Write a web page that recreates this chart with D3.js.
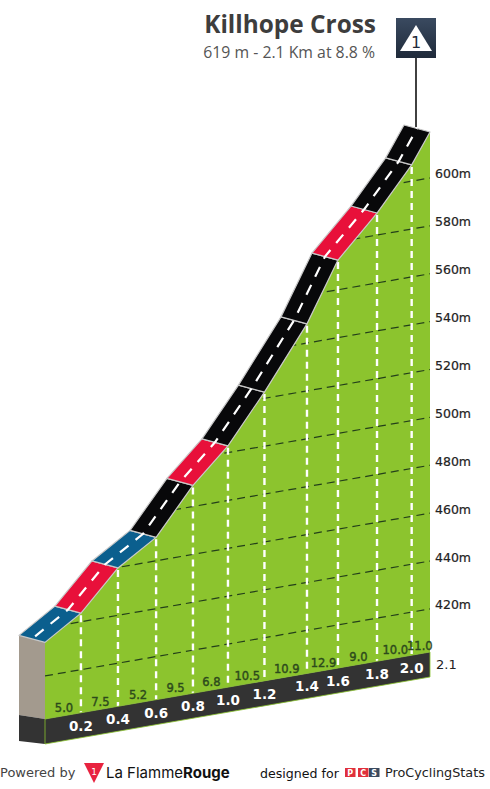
<!DOCTYPE html>
<html><head><meta charset="utf-8">
<script src="https://cdnjs.cloudflare.com/ajax/libs/d3/7.8.5/d3.min.js"></script>
<style>html,body{margin:0;padding:0;background:#fff}svg{display:block}</style>
</head><body><svg id="c" width="490" height="789"></svg>
<script>
const kmPoints=[0,0.196,0.398,0.606,0.807,0.998,1.197,1.429,1.598,1.811,2.0,2.1];
const elevations=[434,443.6,459.8,469.8,488.8,502.8,522.6,548,572.4,589.2,606.8,619.2];
const gradients=[5.0,7.5,5.2,9.5,6.8,10.5,10.9,12.9,9.0,10.0,11.0];
const kmLabels=["0.2","0.4","0.6","0.8","1.0","1.2","1.4","1.6","1.8","2.0"];
const elevTicks=[420,440,460,480,500,520,540,560,580,600];
const segColors=["#0b5f8e","#e8103a","#0b5f8e","#08080a","#e8103a","#08080a","#08080a","#08080a","#e8103a","#08080a","#08080a"];

const svg=d3.select("#c");
const F="'DejaVu Sans',Verdana,sans-serif";
const x=d3.scaleLinear().domain([0,2.1]).range([45,430]);
const base=d3.scaleLinear().domain([0,2.1]).range([719,652]);
const h=d3.scaleLinear().domain([402,619.2]).range([0,520]);
const Y=(km,e)=>base(km)-h(e);
const ox=-26,oy=-7;
const pts=kmPoints.map((k,i)=>({k,e:elevations[i],x:x(k),y:Y(k,elevations[i])}));
const line=d3.line();
const closed=a=>line(a)+"Z";

// left end of the block
svg.append("path").attr("d",closed([[x(0)+ox,pts[0].y+oy],[x(0),pts[0].y],[x(0),base(0)],[x(0)+ox,base(0)-4]])).attr("fill","#a39a8e");
svg.append("path").attr("d",closed([[x(0)+ox,base(0)-4],[x(0),base(0)],[x(0),base(0)+25],[x(0)+ox,base(0)+22]])).attr("fill","#333333");

// terrain
const terrain=pts.map(p=>[p.x,p.y]).concat([[x(2.1),base(2.1)],[x(0),base(0)]]);
svg.append("path").attr("d",closed(terrain)).attr("fill","#8cc42e");
svg.append("clipPath").attr("id","t").append("path").attr("d",closed(terrain));

// elevation grid
svg.append("g").attr("clip-path","url(#t)").selectAll("line").data(elevTicks).join("line")
 .attr("x1",x(0)).attr("x2",x(2.1)).attr("y1",d=>Y(0,d)).attr("y2",d=>Y(2.1,d))
 .attr("stroke","#24401a").attr("stroke-width",1.2).attr("stroke-dasharray","8 5");

// km dividers
svg.append("g").selectAll("line").data(pts.slice(1,-1)).join("line")
 .attr("x1",d=>d.x).attr("x2",d=>d.x).attr("y1",d=>d.y+2).attr("y2",d=>base(d.k))
 .attr("stroke","#fff").attr("stroke-width",2.4).attr("stroke-dasharray","7 5");

// base band
svg.append("path").attr("d",closed([[x(0),base(0)],[x(2.1),base(2.1)],[x(2.1),base(2.1)+25],[x(0),base(0)+25]]))
 .attr("fill","#333333").attr("stroke","#8cc42e").attr("stroke-width",0.8);

// road
svg.append("g").selectAll("path").data(gradients).join("path")
 .attr("d",(g,i)=>{const a=pts[i],b=pts[i+1];return closed([[a.x,a.y],[b.x,b.y],[b.x+ox,b.y+oy],[a.x+ox,a.y+oy]]);})
 .attr("fill",(g,i)=>segColors[i]).attr("stroke","#c8c8c8").attr("stroke-width",1.2).attr("stroke-linejoin","round");
svg.append("path").attr("d",line(pts.map(p=>[p.x+ox/2,p.y+oy/2])))
 .attr("fill","none").attr("stroke","#fff").attr("stroke-width",2.2).attr("stroke-dasharray","11 9").attr("stroke-dashoffset",-4);

// gradient labels
const mid=(i)=>(kmPoints[i]+kmPoints[i+1])/2;
svg.append("g").selectAll("text").data(gradients).join("text")
 .attr("x",(g,i)=>x(mid(i))+(i===10?-1:i===9?1:1)).attr("y",(g,i)=>base(mid(i))-4)
 .attr("text-anchor","middle").attr("font-family",F).attr("font-size",11.5)
 .attr("fill","#2c4a1c").attr("stroke","#2c4a1c").attr("stroke-width",0.4).text(g=>g.toFixed(1));

// km labels
svg.append("g").selectAll("text").data(kmLabels).join("text")
 .attr("x",(d,i)=>pts[i+1].x).attr("y",(d,i)=>base(kmPoints[i+1])+18)
 .attr("text-anchor","middle").attr("font-family",F).attr("font-weight","bold").attr("font-size",13.5)
 .attr("fill","#fff").text(d=>d);

// axis labels
svg.append("g").selectAll("text").data(elevTicks).join("text")
 .attr("x",435).attr("y",d=>Y(2.1,d)+0.5)
 .attr("font-family",F).attr("font-size",12.5).attr("fill","#222").attr("stroke","#222").attr("stroke-width",0.2)
 .text(d=>d+"m");
svg.append("text").attr("x",436).attr("y",669).attr("font-family",F).attr("font-size",13).attr("fill","#222").text("2.1");

// title
svg.append("text").attr("x",376).attr("y",33).attr("text-anchor","end").attr("font-family","'Open Sans',sans-serif").attr("font-weight","bold").attr("font-size",24.4).attr("fill","#3d3d3d").text("Killhope Cross");
svg.append("text").attr("x",375).attr("y",58).attr("text-anchor","end").attr("font-family","'Open Sans',sans-serif").attr("font-size",15.8).attr("fill","#555").text("619 m - 2.1 Km at 8.8 %");

// climb marker
const mk=pts[pts.length-1];
svg.append("line").attr("x1",416).attr("x2",416).attr("y1",56).attr("y2",mk.y-5).attr("stroke","#111").attr("stroke-width",1.6);
const gr=svg.append("defs").append("linearGradient").attr("id","mk").attr("x1",0).attr("x2",0).attr("y1",0).attr("y2",1);
gr.append("stop").attr("offset",0).attr("stop-color","#3a4a60");gr.append("stop").attr("offset",1).attr("stop-color","#1f2a3a");
svg.append("rect").attr("x",396).attr("y",18).attr("width",40).attr("height",40).attr("fill","url(#mk)");
svg.append("path").attr("d",closed([[416,25],[432,51],[400,51]])).attr("fill","#fff");
svg.append("text").attr("x",416).attr("y",48).attr("text-anchor","middle").attr("font-family",F).attr("font-size",16).attr("fill","#1f2a3a").text("1");

// footer
svg.append("text").attr("x",0).attr("y",777).attr("font-family",F).attr("font-size",13).attr("fill","#444").text("Powered by");
svg.append("path").attr("d",closed([[84,763],[104,763],[94,783]])).attr("fill","#e8233f");
svg.append("text").attr("x",94).attr("y",775).attr("text-anchor","middle").attr("font-family",F).attr("font-size",9).attr("fill","#fff").text("1");
const lf=svg.append("text").attr("x",106).attr("y",778).attr("font-family","Inter,sans-serif").attr("font-size",15).attr("fill","#111");
lf.append("tspan").text("La Flamme");
lf.append("tspan").attr("font-weight","bold").text("Rouge");
svg.append("text").attr("x",260).attr("y",778).attr("font-family",F).attr("font-size",12.6).attr("fill","#111").text("designed for");
[["P","#e0303c",345],["C","#e0303c",358],["S","#3a4a60",369]].forEach(d=>{
 svg.append("rect").attr("x",d[2]).attr("y",768).attr("width",10.5).attr("height",9).attr("fill",d[1]);
 svg.append("text").attr("x",d[2]+5.2).attr("y",776).attr("text-anchor","middle").attr("font-family",F).attr("font-weight","bold").attr("font-size",8).attr("fill","#fff").text(d[0]);
});
svg.append("text").attr("x",385).attr("y",777).attr("font-family",F).attr("font-size",12.8).attr("fill","#222").text("ProCyclingStats");
</script></body></html>
